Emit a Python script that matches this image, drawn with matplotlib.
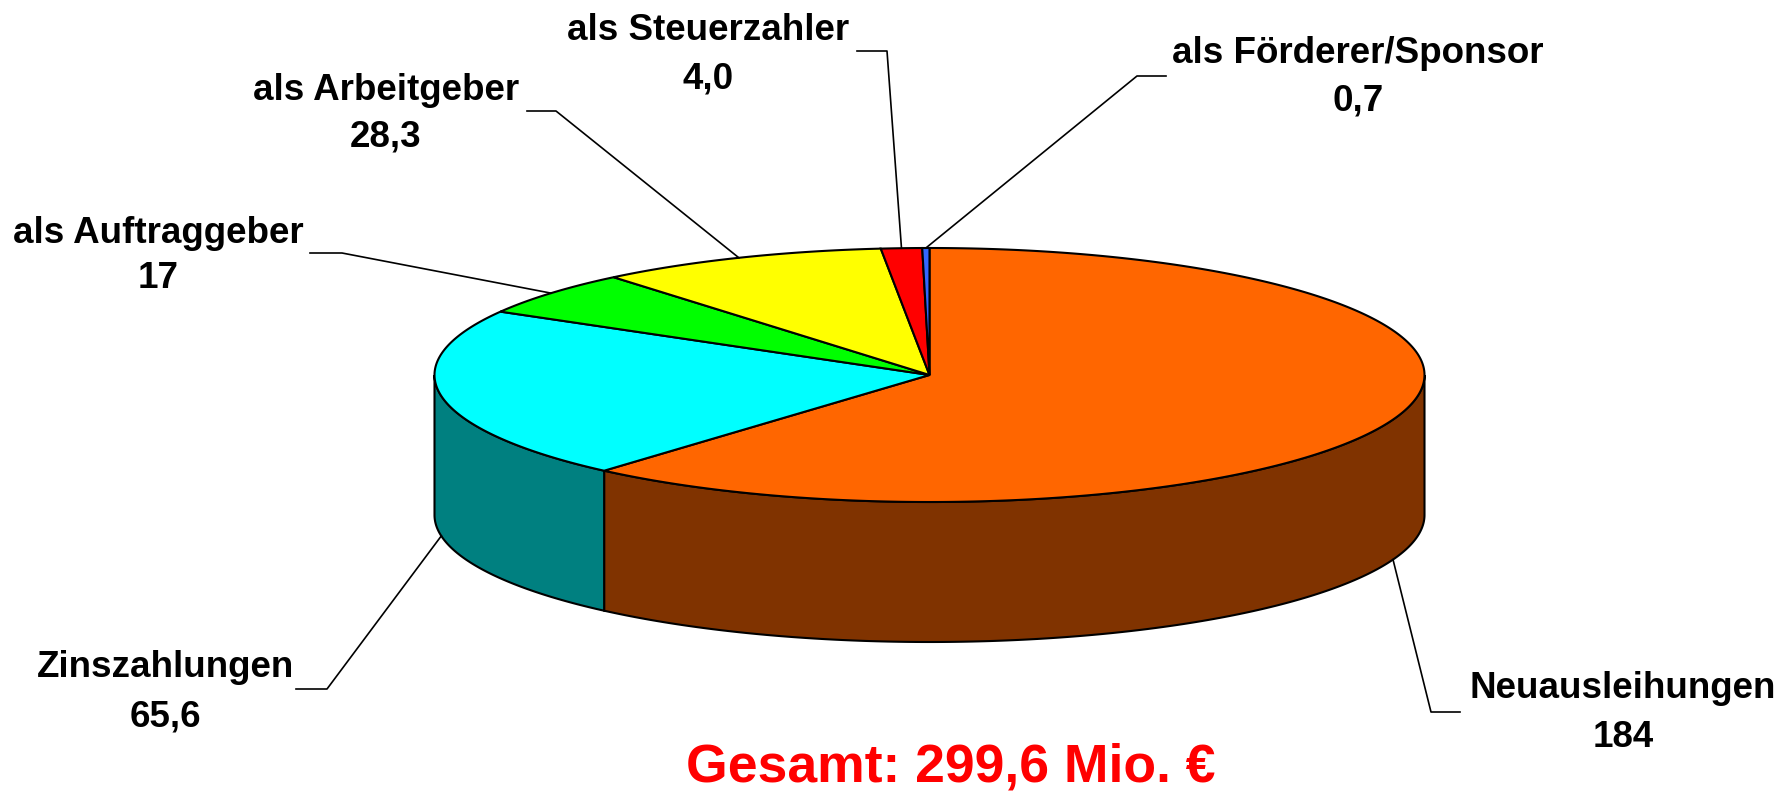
import numpy as np
import matplotlib.pyplot as plt

# Daten
labels = ['Neuausleihungen', 'Zinszahlungen', 'als Auftraggeber',
          'als Arbeitgeber', 'als Steuerzahler', 'als Förderer/Sponsor']
values = [184, 65.6, 17, 28.3, 4.0, 0.7]
value_text = ['184', '65,6', '17', '28,3', '4,0', '0,7']
total_text = 'Gesamt: 299,6 Mio. €'

top_colors = ['#FF6600', '#00FFFF', '#00FF00', '#FFFF00', '#FF0000', '#3366FF']
side_colors = ['#803300', '#008080', '#008000', '#808000', '#800000', '#1A3380']

plt.rcParams['font.family'] = ['Liberation Sans', 'DejaVu Sans']

# Geometrie der "3D"-Torte (Pixel)
cx, cy, rx, ry, depth = 929.5, 375, 495, 127, 140

# Beschriftung: x, Grundlinie Name, Grundlinie Wert, Knick x, Knick y, Ende x
label_pos = [
    (1623, 698, 747, 1431, 712, 1460),
    (165, 677, 727, 327, 689, 296),
    (158, 243, 288, 342, 253, 310),
    (386, 100, 146, 556, 111, 527),
    (708, 40, 88, 887, 51, 857),
    (1358, 63, 111, 1137, 76, 1166),
]


def pt(a, dy=0.0):
    # a = Winkel in Grad, im Uhrzeigersinn ab 12 Uhr
    t = np.radians(90 - np.asarray(a))
    return cx + rx * np.cos(t), cy - ry * np.sin(t) + dy


fig = plt.figure(figsize=(17.91, 7.91), dpi=100)
ax = fig.add_axes([0, 0, 1, 1])
ax.set_xlim(0, 1791)
ax.set_ylim(791, 0)
ax.axis('off')

vals = np.array(values, dtype=float)
edges = np.concatenate([[0], np.cumsum(vals) / vals.sum() * 360])

# Seitenwaende (nur vorderer Teil sichtbar: 90..270 Grad)
for i in range(len(vals)):
    a0, a1 = max(edges[i], 90), min(edges[i + 1], 270)
    if a1 <= a0:
        continue
    aa = np.linspace(a0, a1, 200)
    xt, yt = pt(aa)
    xb, yb = pt(aa[::-1], depth)
    ax.fill(np.concatenate([xt, xb]), np.concatenate([yt, yb]),
            facecolor=side_colors[i], edgecolor='black', lw=1.5, zorder=2)

# Deckflaeche
for i in range(len(vals)):
    aa = np.linspace(edges[i], edges[i + 1], max(int((edges[i + 1] - edges[i]) * 3), 4))
    xs, ys = pt(aa)
    ax.fill(np.concatenate([[cx], xs]), np.concatenate([[cy], ys]),
            facecolor=top_colors[i], edgecolor='black', lw=1.5, zorder=3)

# Beschriftungen mit Fuehrungslinien
for i, (tx, yb1, yb2, kx, ky, ex) in enumerate(label_pos):
    mid = (edges[i] + edges[i + 1]) / 2
    dy = depth if 90 < mid < 270 else 0
    px, py = pt(mid, dy)
    ax.plot([px, kx, ex], [py, ky, ky], color='black', lw=1.2, zorder=4)
    ax.text(tx, yb1, labels[i], ha='center', va='baseline',
            fontsize=26.5, fontweight='bold', color='black')
    ax.text(tx, yb2, value_text[i], ha='center', va='baseline',
            fontsize=26.5, fontweight='bold', color='black')

ax.text(951, 781, total_text, ha='center', va='baseline',
        fontsize=38.5, fontweight='bold', color='#FF0000')

fig.savefig('out.png', dpi=100)
